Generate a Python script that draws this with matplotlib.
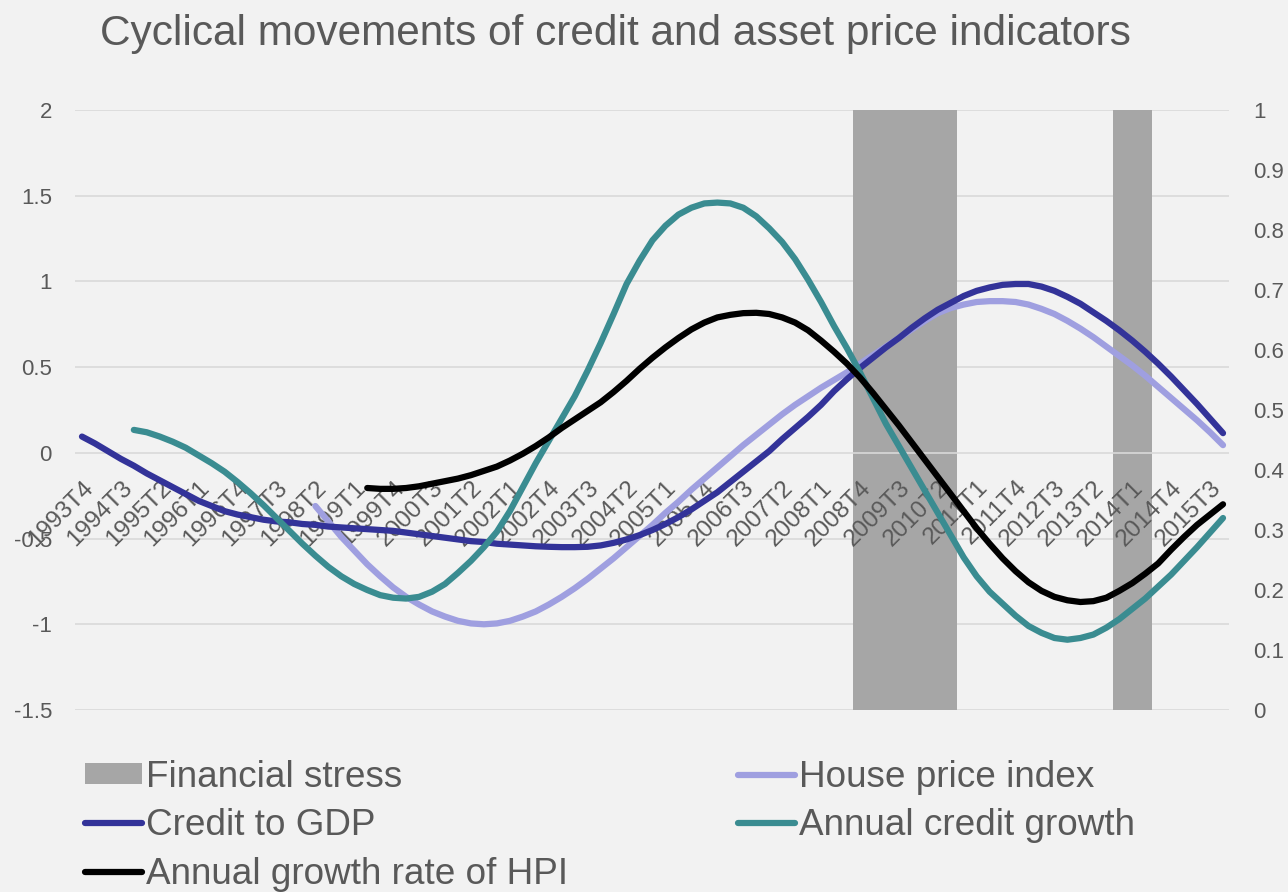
import numpy as np
import matplotlib.pyplot as plt
from matplotlib.ticker import FuncFormatter

plt.rcParams['font.family'] = ['Liberation Sans', 'DejaVu Sans']
plt.rcParams['axes.unicode_minus'] = False

nan = np.nan

# quarterly categories 1993T4 .. 2015T4
quarters = []
yr, qt = 1993, 4
while (yr, qt) <= (2015, 4):
    quarters.append(f'{yr}T{qt}')
    qt += 1
    if qt > 4:
        yr, qt = yr + 1, 1

# financial stress dummy (secondary axis)
stress = [0] * 60 + [1] * 8 + [0] * 12 + [1] * 3 + [0] * 6

credit_gdp = [
    0.095, 0.055, 0.01, -0.035, -0.075, -0.12, -0.16, -0.20, -0.24, -0.28,
    -0.31, -0.34, -0.36, -0.375, -0.39, -0.40, -0.405, -0.415, -0.42, -0.43,
    -0.435, -0.44, -0.445, -0.45, -0.455, -0.465, -0.475, -0.485, -0.495, -0.505,
    -0.515, -0.52, -0.53, -0.535, -0.54, -0.545, -0.548, -0.55, -0.55, -0.548,
    -0.54, -0.525, -0.505, -0.48, -0.45, -0.415, -0.375, -0.33, -0.28, -0.23,
    -0.17, -0.11, -0.05, 0.01, 0.08, 0.145, 0.21, 0.28, 0.36, 0.43,
    0.495, 0.555, 0.615, 0.67, 0.73, 0.785, 0.835, 0.875, 0.915, 0.945,
    0.965, 0.98, 0.985, 0.985, 0.97, 0.945, 0.91, 0.87, 0.82, 0.77,
    0.715, 0.655, 0.59, 0.52, 0.445, 0.365, 0.285, 0.2, 0.115]

house_price = [nan] * 18 + [
    -0.31, -0.40, -0.49, -0.57, -0.65, -0.72, -0.785, -0.84, -0.885, -0.925,
    -0.955, -0.98, -0.995, -1.0, -0.995, -0.98, -0.955, -0.925, -0.885, -0.84,
    -0.79, -0.735, -0.675, -0.615, -0.55, -0.485, -0.42, -0.35, -0.285, -0.215,
    -0.15, -0.085, -0.02, 0.045, 0.105, 0.165, 0.225, 0.28, 0.33, 0.38,
    0.425, 0.47, 0.52, 0.57, 0.62, 0.67, 0.72, 0.77, 0.815, 0.845,
    0.865, 0.88, 0.885, 0.885, 0.88, 0.865, 0.84, 0.81, 0.77, 0.725,
    0.675, 0.62, 0.565, 0.51, 0.45, 0.385, 0.32, 0.255, 0.19, 0.12, 0.045]

credit_growth = [nan] * 4 + [
    0.134, 0.12, 0.095, 0.065, 0.03, -0.015, -0.06, -0.11, -0.17, -0.235,
    -0.305, -0.38, -0.455, -0.53, -0.60, -0.665, -0.72, -0.765, -0.80, -0.83,
    -0.845, -0.85, -0.84, -0.81, -0.765, -0.70, -0.63, -0.55, -0.46, -0.34,
    -0.20, -0.06, 0.07, 0.20, 0.33, 0.48, 0.64, 0.81, 0.985, 1.12,
    1.24, 1.325, 1.39, 1.43, 1.455, 1.46, 1.455, 1.43, 1.38, 1.31,
    1.23, 1.13, 1.01, 0.88, 0.74, 0.61, 0.47, 0.32, 0.17, 0.04,
    -0.09, -0.22, -0.35, -0.48, -0.61, -0.72, -0.81, -0.88, -0.95, -1.01,
    -1.05, -1.08, -1.09, -1.08, -1.06, -1.02, -0.97, -0.91, -0.85, -0.78,
    -0.71, -0.63, -0.55, -0.465, -0.38]

hpi_growth = [nan] * 22 + [
    -0.205, -0.21, -0.21, -0.205, -0.195, -0.18, -0.165, -0.15, -0.13, -0.105,
    -0.08, -0.045, -0.005, 0.04, 0.09, 0.145, 0.195, 0.245, 0.295, 0.355,
    0.42, 0.49, 0.555, 0.615, 0.67, 0.72, 0.76, 0.79, 0.805, 0.815,
    0.817, 0.81, 0.79, 0.76, 0.715, 0.655, 0.59, 0.52, 0.44, 0.35,
    0.255, 0.16, 0.06, -0.04, -0.14, -0.24, -0.34, -0.44, -0.53, -0.615,
    -0.69, -0.755, -0.805, -0.84, -0.86, -0.87, -0.865, -0.845, -0.805, -0.76,
    -0.705, -0.645, -0.565, -0.49, -0.42, -0.36, -0.30]

BG = '#F2F2F2'
TXT = '#595959'
GRID = '#D9D9D9'

x = np.arange(len(quarters))

fig = plt.figure(figsize=(12.88, 8.92), dpi=100)
fig.patch.set_facecolor(BG)
ax = fig.add_axes([75.5 / 1288, 1 - 710 / 892, 1154 / 1288, 600 / 892])
ax2 = ax.twinx()
ax.set_zorder(ax2.get_zorder() + 1)
ax.patch.set_visible(False)

lo, hi = -1.5, 2.0
ax.set_ylim(lo, hi)
ax.set_yticks(np.arange(lo, hi + 0.01, 0.5))
ax.yaxis.set_major_formatter(FuncFormatter(lambda v, p: f'{v:g}'))
ax2.set_ylim(0, 1)
ax2.set_yticks(np.arange(0, 1.01, 0.1))
ax2.yaxis.set_major_formatter(FuncFormatter(lambda v, p: f'{round(v, 1):g}'))
ax.set_xlim(-0.5, len(quarters) - 0.5)

# gridlines sit behind the stress bars, the zero axis line sits on top
for v in ax.get_yticks():
    if v != 0:
        ax2.axhline((v - lo) / (hi - lo), color=GRID, lw=1.2, zorder=0.5)
bars = ax2.bar(x, stress, width=1.0, color='#A6A6A6', zorder=1, label='Financial stress')
ax2.axhline((0 - lo) / (hi - lo), color=GRID, lw=1.2, zorder=3)

kw = dict(lw=4.5, solid_capstyle='round')
l_hpi, = ax.plot(x, house_price, color='#9F9FE0', label='House price index', **kw)
l_cg, = ax.plot(x, credit_gdp, color='#333399', label='Credit to GDP', **kw)
l_gr, = ax.plot(x, credit_growth, color='#3A8C91', label='Annual credit growth', **kw)
l_hg, = ax.plot(x, hpi_growth, color='black', label='Annual growth rate of HPI', **kw)

for a in (ax, ax2):
    for s in a.spines.values():
        s.set_visible(False)
ax.tick_params(axis='y', length=0, pad=17, labelsize=16, labelcolor=TXT)
ax2.tick_params(axis='y', length=0, pad=17, labelsize=16, labelcolor=TXT)

ax.spines['bottom'].set_position(('data', 0))
ax.set_xticks(x[::3])
ax.set_xticklabels(quarters[::3], rotation=45, ha='right', va='top',
                   rotation_mode='anchor')
ax.tick_params(axis='x', length=0, pad=17, labelsize=17.5, labelcolor=TXT)

fig.text(100 / 1288, 1 - 14 / 892, 'Cyclical movements of credit and asset price indicators',
         ha='left', va='top', fontsize=30.5, color=TXT)

leg = fig.legend(handles=[bars, l_cg, l_hg, l_hpi, l_gr], ncol=2,
                 loc='upper left', bbox_to_anchor=(85 / 1288, 1 - 760 / 892),
                 frameon=False, fontsize=26.6, borderpad=0, handlelength=1.55,
                 handleheight=0.5, handletextpad=0.1, columnspacing=4.6,
                 labelspacing=0.36, borderaxespad=0)
for t in leg.get_texts():
    t.set_color(TXT)

fig.savefig('out.png', dpi=100, facecolor=BG)
